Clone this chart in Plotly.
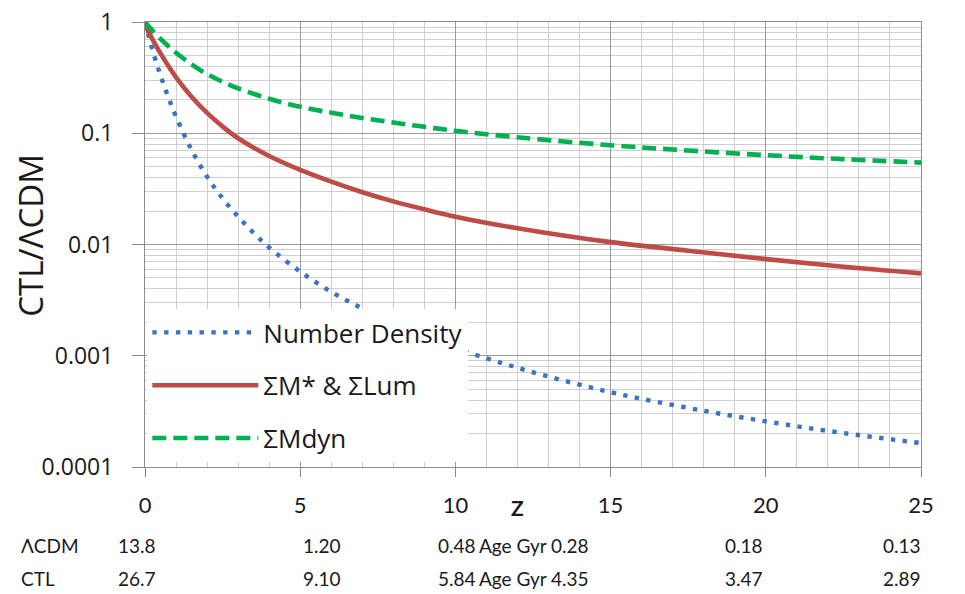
import plotly.graph_objects as go

# ---- data ----
z_nd = [0, 0.25, 0.5, 0.75, 1, 1.5, 2, 2.5, 3, 3.5, 4, 5, 6, 7, 8, 9, 10, 11, 12, 13, 14, 15, 16, 18, 20, 22, 25]
number_density = [1.0, 0.550, 0.331, 0.211, 0.141, 0.0708, 0.0407, 0.026, 0.0178, 0.0127, 0.0094, 0.0057, 0.00376,
                  0.00266, 0.00197, 0.00151, 0.00117, 0.00095, 0.00078, 0.00065, 0.00055, 0.00047, 0.00041,
                  0.00032, 0.000257, 0.000211, 0.000164]

z_m = [0, 0.25, 0.5, 0.75, 1, 1.5, 2, 2.5, 3, 4, 5, 6, 7, 8, 9, 10, 12, 15, 17.5, 20, 22.5, 25]
mstar_lum = [0.933, 0.692, 0.522, 0.403, 0.318, 0.2126, 0.1522, 0.1148, 0.0902, 0.0624, 0.0468, 0.0367, 0.0295,
             0.0244, 0.0207, 0.0178, 0.014, 0.0105, 0.0088, 0.0074, 0.0063, 0.0055]
mdyn = [1.0, 0.832, 0.705, 0.607, 0.530, 0.416, 0.340, 0.290, 0.253, 0.204, 0.173, 0.153, 0.1374, 0.1247, 0.1143,
        0.1052, 0.092, 0.078, 0.070, 0.0635, 0.0585, 0.0545]

z_ticks = [0, 5, 10, 15, 20, 25]
y_tickvals = [1, 0.1, 0.01, 0.001, 0.0001]
y_ticktext = ["1", "0.1", "0.01", "0.001", "0.0001"]
lcdm_age = ["13.8", "1.20", "0.48", "0.28", "0.18", "0.13"]
ctl_age = ["26.7", "9.10", "5.84", "4.35", "3.47", "2.89"]
col_shift = [-0.93, 0.03, 0.05, -1.31, -0.02, 0.06]
X_MAX = 25

TXT = "#1a1a1a"
fig = go.Figure()
fig.add_trace(go.Scatter(x=z_nd, y=number_density, mode="lines", name="Number Density",
                         legendgroup="a", line=dict(color="#3A72C4", width=4.4, dash="4.4px,7.4px", shape="spline")))
fig.add_trace(go.Scatter(x=z_m, y=mstar_lum, mode="lines", name="ΣM* & ΣLum",
                         legendgroup="b", line=dict(color="#BE4B48", width=4.6, shape="spline")))
fig.add_trace(go.Scatter(x=z_m, y=mdyn, mode="lines", name="ΣMdyn",
                         legendgroup="c", line=dict(color="#00B050", width=4.6, dash="14px,7px", shape="spline")))

ann = []
ann.append(dict(text="CTL/ΛCDM", x=-0.148, y=0.52, xref="paper", yref="paper", textangle=-90,
                showarrow=False, xanchor="center", yanchor="middle",
                font=dict(family="Open Sans", size=33, color=TXT)))
ann.append(dict(text="<b>Z</b>", x=12.0 / X_MAX, y=-0.09, xref="paper", yref="paper", showarrow=False,
                yanchor="middle", font=dict(family="Lato", size=21, color=TXT)))
row_y = [-0.176, -0.25]
labels = ["ΛCDM", "CTL"]
for ry, lab, vals in zip(row_y, labels, [lcdm_age, ctl_age]):
    ann.append(dict(text=lab, x=-0.163, y=ry, xref="paper", yref="paper", xanchor="left", yanchor="middle",
                    showarrow=False, font=dict(family="Lato", size=19, color=TXT)))
    ann.append(dict(text="Age Gyr", x=11.86 / X_MAX, y=ry, xref="paper", yref="paper", yanchor="middle",
                    showarrow=False, font=dict(family="Lato", size=19, color=TXT)))
    for zt, sh, v in zip(z_ticks, col_shift, vals):
        ann.append(dict(text=v, x=(zt + sh) / X_MAX, y=ry, xref="paper", yref="paper", yanchor="middle",
                        showarrow=False, font=dict(family="Lato", size=19, color=TXT)))

fig.update_layout(
    width=965, height=594,
    margin=dict(l=145, r=44, t=22, b=127, autoexpand=False),
    paper_bgcolor="white", plot_bgcolor="white",
    showlegend=True,
    legend=dict(x=0.003, y=0.355, xanchor="left", yanchor="top", bgcolor="white",
                font=dict(family="Open Sans", size=26, color=TXT),
                tracegroupgap=16, itemwidth=106),
    annotations=ann,
)
fig.update_xaxes(range=[0, X_MAX], tickvals=z_ticks, ticks="outside", ticklen=9, tickcolor="#888",
                 showline=True, linecolor="#8c8c8c", mirror=True, zeroline=False,
                 showgrid=True, gridcolor="#9a9a9a", gridwidth=1,
                 minor=dict(dtick=1, showgrid=True, gridcolor="#cfcfcf", gridwidth=1),
                 tickfont=dict(family="Lato", size=22, color=TXT), ticklabelstandoff=10)
fig.update_yaxes(type="log", range=[-4, 0], tickvals=y_tickvals, ticktext=y_ticktext,
                 ticks="outside", ticklen=12, tickcolor="#888",
                 showline=True, linecolor="#8c8c8c", mirror=True, zeroline=False,
                 showgrid=True, gridcolor="#9a9a9a", gridwidth=1,
                 minor=dict(dtick="D1", showgrid=True, gridcolor="#cfcfcf", gridwidth=1),
                 tickfont=dict(family="Open Sans", size=23, color=TXT), ticklabelstandoff=14)

fig.write_html("out.html")
